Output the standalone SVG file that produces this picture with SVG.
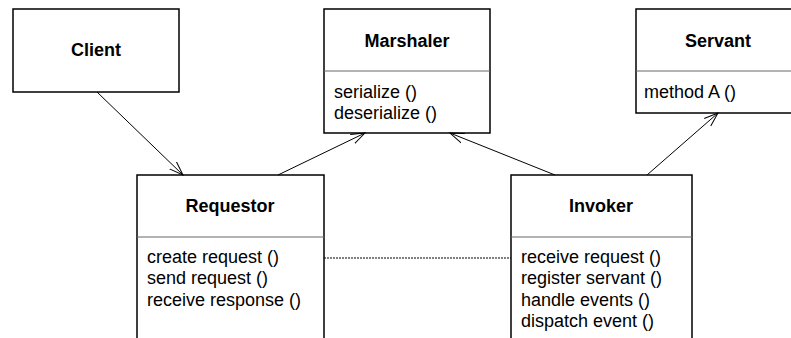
<svg xmlns="http://www.w3.org/2000/svg" width="791" height="338" viewBox="0 0 791 338">
  <style>
    .box { fill: #fff; stroke: #000; stroke-width: 1.5; }
    .div { stroke: #666; stroke-width: 1; }
    .title { font-family: "Liberation Sans", Arial, sans-serif; font-size: 18px; font-weight: bold; text-anchor: middle; fill: #000; }
    .m { font-family: "Liberation Sans", Arial, sans-serif; font-size: 18px; fill: #000; }
    .conn { stroke: #000; stroke-width: 1; fill: none; }
  </style>
  <defs>
    <marker id="open" markerUnits="userSpaceOnUse" markerWidth="16" markerHeight="12" refX="14" refY="6" orient="auto" viewBox="0 0 16 12">
      <path d="M0,1 L14,6 L0,11" fill="none" stroke="#000" stroke-width="1"/>
    </marker>
  </defs>
  <rect width="791" height="338" fill="#fff"/>

  <g id="client">
    <rect class="box" x="13" y="9" width="166" height="83"/>
    <text class="title" x="96" y="56">Client</text>
  </g>

  <g id="marshaler">
    <rect class="box" x="324" y="9" width="166" height="124"/>
    <line class="div" x1="324" y1="71" x2="490" y2="71"/>
    <text class="title" x="407" y="47">Marshaler</text>
    <text class="m" x="334" y="98">serialize ()</text>
    <text class="m" x="334" y="119">deserialize ()</text>
  </g>

  <g id="servant">
    <rect class="box" x="636" y="9" width="170" height="104"/>
    <line class="div" x1="636" y1="71" x2="806" y2="71"/>
    <text class="title" x="718" y="47">Servant</text>
    <text class="m" x="644" y="98">method A ()</text>
  </g>

  <g id="requestor">
    <rect class="box" x="137" y="175" width="187" height="180"/>
    <line class="div" x1="137" y1="237" x2="324" y2="237"/>
    <text class="title" x="230" y="212">Requestor</text>
    <text class="m" x="147" y="263">create request ()</text>
    <text class="m" x="147" y="284">send request ()</text>
    <text class="m" x="147" y="306">receive response ()</text>
  </g>

  <g id="invoker">
    <rect class="box" x="511" y="175" width="181" height="180"/>
    <line class="div" x1="511" y1="237" x2="692" y2="237"/>
    <text class="title" x="601" y="212">Invoker</text>
    <text class="m" x="521" y="263">receive request ()</text>
    <text class="m" x="521" y="284">register servant ()</text>
    <text class="m" x="521" y="306">handle events ()</text>
    <text class="m" x="521" y="327">dispatch event ()</text>
  </g>

  <g id="connectors">
    <line class="conn" x1="97" y1="92" x2="183" y2="175" marker-end="url(#open)"/>
    <line class="conn" x1="278" y1="175" x2="365" y2="133" marker-end="url(#open)"/>
    <line class="conn" x1="555" y1="175" x2="450" y2="133" marker-end="url(#open)"/>
    <line class="conn" x1="647" y1="175" x2="718" y2="113" marker-end="url(#open)"/>
    <line class="conn" x1="324" y1="258" x2="511" y2="258" stroke-dasharray="2,1"/>
  </g>
</svg>
